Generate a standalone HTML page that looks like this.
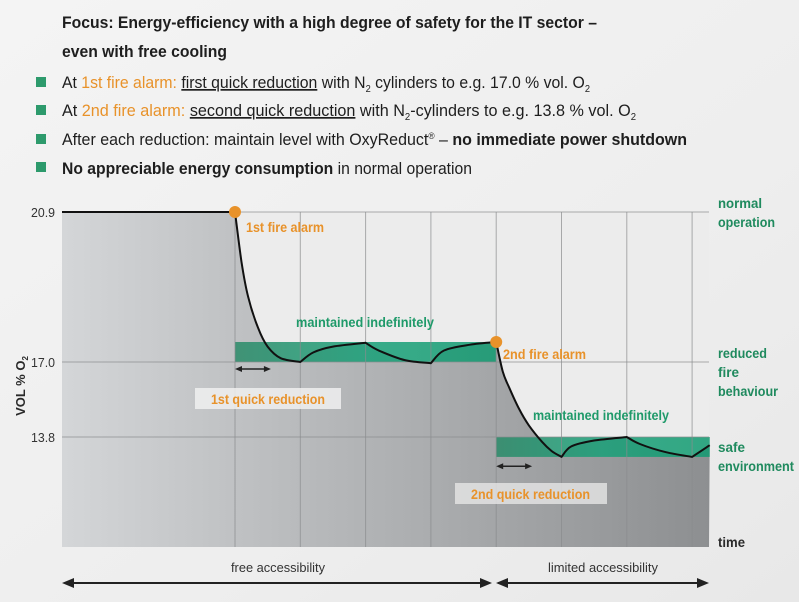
<!DOCTYPE html>
<html><head><meta charset="utf-8"><style>
html,body{margin:0;padding:0;width:799px;height:602px;overflow:hidden;background:#f2f2f2}
svg{display:block;font-family:"Liberation Sans",sans-serif}
</style></head><body>
<svg id="chart" width="799" height="602" viewBox="0 0 799 602" xmlns="http://www.w3.org/2000/svg">
<defs>
<linearGradient id="bg" x1="0" y1="0" x2="1" y2="1"><stop offset="0" stop-color="#f4f4f4"/><stop offset="0.6" stop-color="#eeeeee"/><stop offset="1" stop-color="#e8e8e8"/></linearGradient>
<linearGradient id="under" x1="0" y1="0" x2="1" y2="0"><stop offset="0" stop-color="#d4d6d8"/><stop offset="0.3" stop-color="#bdbfc1"/><stop offset="1" stop-color="#8d8f91"/></linearGradient>
<linearGradient id="band" x1="0" y1="0" x2="1" y2="0"><stop offset="0" stop-color="#2a8a68"/><stop offset="0.5" stop-color="#18a078"/><stop offset="1" stop-color="#119a70"/></linearGradient>
</defs>
<rect x="0" y="0" width="799" height="602" fill="url(#bg)"/>

<g fill="#1e1e1e">
<text x="62" y="28" font-size="17" font-weight="bold" textLength="535" lengthAdjust="spacingAndGlyphs">Focus: Energy-efficiency with a high degree of safety for the IT sector –</text>
<text x="62" y="57" font-size="17" font-weight="bold" textLength="165" lengthAdjust="spacingAndGlyphs">even with free cooling</text>
<rect x="36" y="77" width="10" height="10" fill="#2d9a6c"/>
<rect x="36" y="105" width="10" height="10" fill="#2d9a6c"/>
<rect x="36" y="134" width="10" height="10" fill="#2d9a6c"/>
<rect x="36" y="162" width="10" height="10" fill="#2d9a6c"/>
<text x="62" y="88" font-size="17" textLength="528" lengthAdjust="spacingAndGlyphs">At <tspan fill="#e8922a">1st fire alarm:</tspan> <tspan text-decoration="underline">first quick reduction</tspan> with N<tspan font-size="10" dy="4">2</tspan><tspan dy="-4"> cylinders to e.g. 17.0 % vol. O</tspan><tspan font-size="10" dy="4">2</tspan></text>
<text x="62" y="116" font-size="17" textLength="574" lengthAdjust="spacingAndGlyphs">At <tspan fill="#e8922a">2nd fire alarm:</tspan> <tspan text-decoration="underline">second quick reduction</tspan> with N<tspan font-size="10" dy="4">2</tspan><tspan dy="-4">-cylinders to e.g. 13.8 % vol. O</tspan><tspan font-size="10" dy="4">2</tspan></text>
<text x="62" y="145" font-size="17" textLength="625" lengthAdjust="spacingAndGlyphs">After each reduction: maintain level with OxyReduct<tspan font-size="9" dy="-6">®</tspan><tspan dy="6"> – </tspan><tspan font-weight="bold">no immediate power shutdown</tspan></text>
<text x="62" y="174" font-size="17" textLength="410" lengthAdjust="spacingAndGlyphs"><tspan font-weight="bold">No appreciable energy consumption</tspan> in normal operation</text>
</g>

<rect x="62" y="212" width="647" height="335" fill="#ececec"/>
<g id="marks"></g>

<g font-size="14" font-weight="bold" fill="#1f8a5e">
<text x="718" y="208" textLength="44" lengthAdjust="spacingAndGlyphs">normal</text>
<text x="718" y="227" textLength="57" lengthAdjust="spacingAndGlyphs">operation</text>
<text x="718" y="358" textLength="49" lengthAdjust="spacingAndGlyphs">reduced</text>
<text x="718" y="377" textLength="21" lengthAdjust="spacingAndGlyphs">fire</text>
<text x="718" y="396" textLength="60" lengthAdjust="spacingAndGlyphs">behaviour</text>
<text x="718" y="452" textLength="27" lengthAdjust="spacingAndGlyphs">safe</text>
<text x="718" y="471" textLength="76" lengthAdjust="spacingAndGlyphs">environment</text>
<text x="718" y="547" fill="#2a2a2a" textLength="27" lengthAdjust="spacingAndGlyphs">time</text>
</g>
<text transform="translate(25,386) rotate(-90)" text-anchor="middle" font-size="13" font-weight="bold" fill="#2a2a2a">VOL % O<tspan font-size="8" dy="3">2</tspan></text>

<g font-size="14" font-weight="bold">
<text x="246" y="232" fill="#e8922a" textLength="78" lengthAdjust="spacingAndGlyphs">1st fire alarm</text>
<text x="296" y="327" fill="#1f9a6a" textLength="138" lengthAdjust="spacingAndGlyphs">maintained indefinitely</text>
<text x="503" y="359" fill="#e8922a" textLength="83" lengthAdjust="spacingAndGlyphs">2nd fire alarm</text>
<text x="533" y="420" fill="#1f9a6a" textLength="136" lengthAdjust="spacingAndGlyphs">maintained indefinitely</text>
<rect x="195" y="388" width="146" height="21" fill="#f0f0f0" opacity="0.85"/>
<text x="211" y="404" fill="#e8922a" textLength="114" lengthAdjust="spacingAndGlyphs">1st quick reduction</text>
<rect x="455" y="483" width="152" height="21" fill="#e6e6e6" opacity="0.8"/>
<text x="471" y="499" fill="#e8922a" textLength="119" lengthAdjust="spacingAndGlyphs">2nd quick reduction</text>
</g>

<g fill="#333" font-size="13">
<text x="231" y="572" textLength="94" lengthAdjust="spacingAndGlyphs">free accessibility</text>
<text x="548" y="572" textLength="110" lengthAdjust="spacingAndGlyphs">limited accessibility</text>
<line x1="66" y1="583" x2="488" y2="583" stroke="#222" stroke-width="2"/>
<line x1="498" y1="583" x2="705" y2="583" stroke="#222" stroke-width="2"/>
<polygon points="62,583 74,578 74,588" fill="#222"/>
<polygon points="492,583 480,578 480,588" fill="#222"/>
<polygon points="496,583 508,578 508,588" fill="#222"/>
<polygon points="709,583 697,578 697,588" fill="#222"/>
</g>
</svg>
<script>
// time data (grid unit steps) and O2 values (% vol)
const curveT = [-2.65,0,0.1,0.2,0.35,0.5,0.7,1.0,1.2,1.5,2.0,2.2,2.6,3.0,3.2,3.6,4.0,4.1,4.2,4.35,4.5,4.7,4.85,5.0,5.15,5.5,6.0,6.2,6.6,7.0,7.27];
const curveV = [20.9,20.9,19.6,18.7,17.9,17.4,17.1,17.0,17.25,17.4,17.5,17.3,17.05,16.95,17.3,17.45,17.52,16.6,15.9,15.0,14.3,13.6,13.2,12.95,13.4,13.65,13.8,13.5,13.15,12.95,13.45];
const gridT = [0,1,2,3,4,5,6,7];
const tickValues = [20.9,17.0,13.8];
const tickLabels = ["20.9","17.0","13.8"];
const bandStartT = [0,4];
const bandEndT = [4,7.27];
const bandLow = [17.0,12.95];
const bandHigh = [17.52,13.8];
const alarmT = [0,4];
const alarmV = [20.9,17.52];
const reductionArrowT = [[0,0.55],[4,4.55]];
const reductionArrowV = [16.7,12.55];

const NS='http://www.w3.org/2000/svg';
function xs(t){return 235 + t*65.3;}
function ys(v){
  if(v>=17.0) return 362 - (v-17.0)*(150/3.9);
  return 362 - (v-17.0)*(75/3.2);
}
const g=document.getElementById('marks');
function mk(tag,attrs){const e=document.createElementNS(NS,tag);for(const k in attrs)e.setAttribute(k,attrs[k]);g.appendChild(e);return e;}
function buildPath(){
  const P=curveT.map((t,i)=>[xs(t),ys(curveV[i])]);
  const cusp=curveT.map((t,i)=>i===0||i===curveT.length-1||Math.abs(t-Math.round(t))<1e-6);
  let d='M'+P[0][0].toFixed(1)+','+P[0][1].toFixed(1);
  for(let i=0;i<P.length-1;i++){
    const p1=P[i],p2=P[i+1];
    const p0=cusp[i]?p1:P[i-1];
    const p3=cusp[i+1]?p2:P[i+2];
    const c1=[p1[0]+(p2[0]-p0[0])/6,p1[1]+(p2[1]-p0[1])/6];
    const c2=[p2[0]-(p3[0]-p1[0])/6,p2[1]-(p3[1]-p1[1])/6];
    d+=` C${c1[0].toFixed(1)},${c1[1].toFixed(1)} ${c2[0].toFixed(1)},${c2[1].toFixed(1)} ${p2[0].toFixed(1)},${p2[1].toFixed(1)}`;
  }
  return d;
}
const lineD=buildPath();
const under=mk('path',{d:lineD+' L709,547 L62,547 Z',fill:'url(#under)'});


for(let i=0;i<bandStartT.length;i++){
  const b=mk('rect',{x:xs(bandStartT[i]),y:ys(bandHigh[i]),width:xs(bandEndT[i])-xs(bandStartT[i]),height:ys(bandLow[i])-ys(bandHigh[i]),fill:'url(#band)',opacity:0.85});
  
  
}
gridT.forEach(t=>{
  const l=mk('line',{x1:xs(t),x2:xs(t),y1:212,y2:547,stroke:'#8a8c8e','stroke-width':1,opacity:0.7});
  
  
});
tickValues.forEach((v,i)=>{
  const l=mk('line',{x1:62,x2:709,y1:ys(v),y2:ys(v),stroke:'#8a8c8e','stroke-width':1,opacity:0.7});
  
  
  const tx=mk('text',{x:55,y:ys(v)+5,'text-anchor':'end','font-size':13,fill:'#333',textLength:24,lengthAdjust:'spacingAndGlyphs'});
  tx.textContent=tickLabels[i];
  
  
});
const ln=mk('path',{d:lineD,fill:'none',stroke:'#111','stroke-width':2,'stroke-linejoin':'round'});


reductionArrowT.forEach((a,i)=>{
  const y=ys(reductionArrowV[i]);
  const l=mk('line',{x1:xs(a[0])+4,x2:xs(a[1])-4,y1:y,y2:y,stroke:'#222','stroke-width':1.5});
  
  
  mk('polygon',{points:`${xs(a[0])},${y} ${xs(a[0])+7},${y-3} ${xs(a[0])+7},${y+3}`,fill:'#222'});
  mk('polygon',{points:`${xs(a[1])},${y} ${xs(a[1])-7},${y-3} ${xs(a[1])-7},${y+3}`,fill:'#222'});
});
alarmT.forEach((t,i)=>{
  const c=mk('circle',{cx:xs(t),cy:ys(alarmV[i]),r:6,fill:'#e8922a'});
  
  
});
</script>
</body></html>
